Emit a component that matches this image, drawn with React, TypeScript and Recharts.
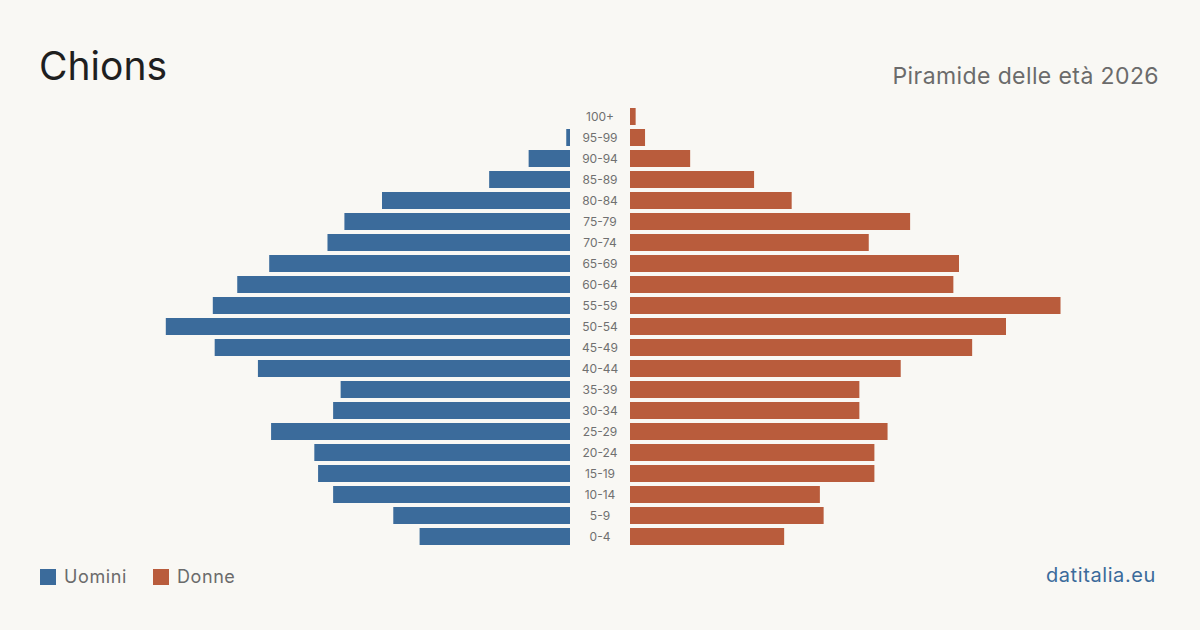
import { BarChart, Bar, XAxis, YAxis } from 'recharts';

const ageGroups = [
  '100+', '95-99', '90-94', '85-89', '80-84', '75-79', '70-74', '65-69', '60-64', '55-59', '50-54',
  '45-49', '40-44', '35-39', '30-34', '25-29', '20-24', '15-19', '10-14', '5-9', '0-4',
];
const uomini = [0, 2, 22, 43, 100, 120, 129, 160, 177, 190, 215, 189, 166, 122, 126, 159, 136, 134, 126, 94, 80];
const donne = [3, 8, 32, 66, 86, 149, 127, 175, 172, 229, 200, 182, 144, 122, 122, 137, 130, 130, 101, 103, 82];

const BLUE = '#3b6b9b';
const ORANGE = '#b95c3c';
const FONT = 'Inter, "Noto Sans", sans-serif';

const data = ageGroups.map((age, i) => ({ age, uomini: uomini[i], donne: donne[i] }));

const AgeTick = (props: any) => {
  const { y, payload } = props;
  return (
    <text x={30} y={y} textAnchor="middle" dominantBaseline="central" fontSize={12} fill="#707070" fontFamily={FONT}>
      {payload.value}
    </text>
  );
};

export default function App() {
  return (
    <div
      style={{
        position: 'absolute',
        left: 0,
        top: 0,
        width: 1200,
        height: 630,
        background: '#f9f8f4',
        fontFamily: FONT,
        overflow: 'hidden',
      }}
    >
      <div style={{ position: 'absolute', left: 39, top: 41, fontSize: 39, color: '#1f1f1f', lineHeight: '50px' }}>
        Chions
      </div>
      <div
        style={{
          position: 'absolute',
          right: 41,
          top: 61,
          fontSize: 23,
          letterSpacing: 0.4,
          color: '#6b6b6b',
          lineHeight: '30px',
        }}
      >
        Piramide delle età 2026
      </div>

      {/* uomini, a sinistra */}
      <div style={{ position: 'absolute', left: 100, top: 106 }}>
        <BarChart width={470} height={441} data={data} layout="vertical" margin={{ top: 0, right: 0, bottom: 0, left: 0 }}>
          <XAxis type="number" domain={[0, 250]} reversed hide allowDataOverflow />
          <YAxis type="category" dataKey="age" hide />
          <Bar dataKey="uomini" fill={BLUE} barSize={17} isAnimationActive={false} />
        </BarChart>
      </div>

      {/* donne, a destra, con le etichette al centro */}
      <div style={{ position: 'absolute', left: 570, top: 106 }}>
        <BarChart width={530} height={441} data={data} layout="vertical" margin={{ top: 0, right: 0, bottom: 0, left: 0 }}>
          <XAxis type="number" domain={[0, 250]} hide allowDataOverflow />
          <YAxis
            type="category"
            dataKey="age"
            width={60}
            tickLine={false}
            axisLine={false}
            interval={0}
            tick={<AgeTick />}
          />
          <Bar dataKey="donne" fill={ORANGE} barSize={17} isAnimationActive={false} />
        </BarChart>
      </div>

      <div
        style={{
          position: 'absolute',
          left: 40,
          top: 566,
          display: 'flex',
          alignItems: 'center',
          fontSize: 18,
          letterSpacing: 0.6,
          color: '#6b6b6b',
        }}
      >
        <span style={{ width: 16, height: 16, background: BLUE, display: 'inline-block', marginRight: 8 }} />
        <span style={{ marginRight: 26 }}>Uomini</span>
        <span style={{ width: 16, height: 16, background: ORANGE, display: 'inline-block', marginRight: 8 }} />
        <span>Donne</span>
      </div>
      <div style={{ position: 'absolute', right: 44, top: 563, fontSize: 20, letterSpacing: 0.6, color: BLUE }}>
        datitalia.eu
      </div>
    </div>
  );
}
